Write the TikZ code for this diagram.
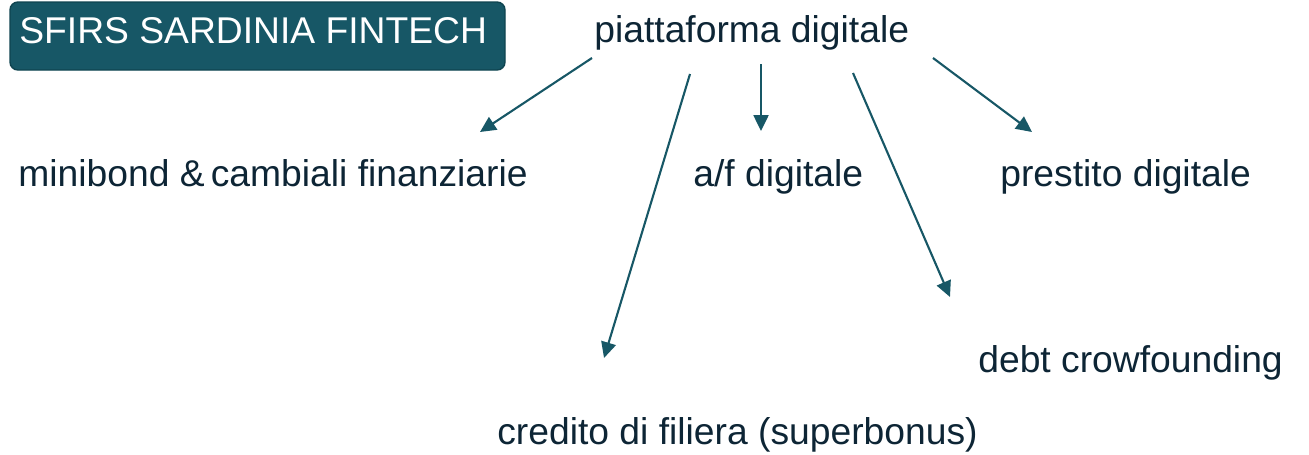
\documentclass[tikz,border=0pt]{standalone}
\usepackage{fontspec}
\setmainfont{Liberation Sans}
\usetikzlibrary{arrows.meta}

\definecolor{teal}{HTML}{175766}
\definecolor{tealdark}{HTML}{0F4450}
\definecolor{ink}{HTML}{0D2535}

\tikzset{
	lbl/.style={anchor=base west,inner sep=0pt,text=ink,font=\fontsize{21.2}{25}\selectfont},
	titlelbl/.style={anchor=base west,inner sep=0pt,text=white,font=\fontsize{21.2}{25}\selectfont},
	titlebox/.style={fill=teal,draw=tealdark,line width=0.8pt,rounded corners=4.5pt},
	link/.style={draw=teal,line width=1.2pt,-{Triangle[length=9pt,width=8.5pt]}}
}

\begin{document}
\begin{tikzpicture}[x=0.02cm,y=-0.02cm]
	\useasboundingbox (0,0) rectangle (1309,454);
	\draw[titlebox] (10,2) rectangle (505,70);
	\node[titlelbl] (sfirs) at (19,43) {SFIRS SARDINIA FINTECH};
	\node[lbl] (piatt) at (594,42) {piattaforma digitale};
	\node[lbl] (mini) at (18,186) {minibond \&\,cambiali finanziarie};
	\node[lbl] (af) at (693,186) {a/f digitale};
	\node[lbl] (prest) at (1000,186) {prestito digitale};
	\node[lbl] (debt) at (978,372) {debt crowfounding};
	\node[lbl] (cred) at (497,444) {credito di filiera (superbonus)};
	\coordinate (s1) at (592,58);   \coordinate (e1) at (480,132);
	\coordinate (s2) at (690,74);   \coordinate (e2) at (604,358);
	\coordinate (s3) at (761,64);   \coordinate (e3) at (761,131);
	\coordinate (s4) at (853,73);   \coordinate (e4) at (950,297);
	\coordinate (s5) at (933,58);   \coordinate (e5) at (1032,132);
	\foreach \i in {1,...,5}
	\draw[link] (s\i) -- (e\i);
\end{tikzpicture}
\end{document}
